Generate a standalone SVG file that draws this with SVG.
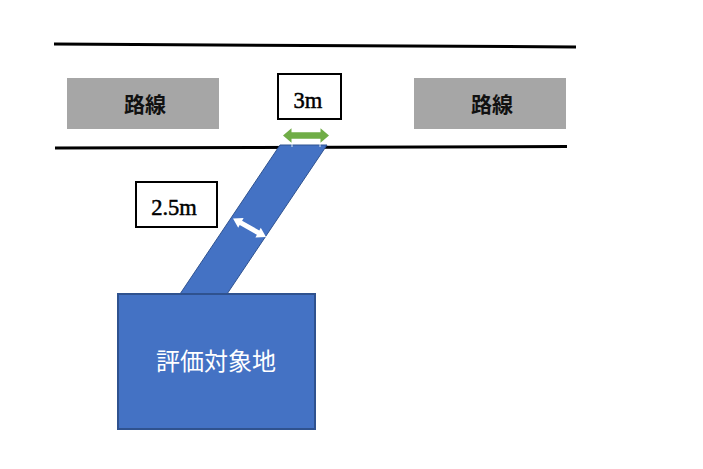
<svg xmlns="http://www.w3.org/2000/svg" width="703" height="469" viewBox="0 0 703 469">
<style>
.road{stroke:#000;stroke-width:3;fill:none}
.gray{fill:#a6a6a6}
.box{fill:#fff;stroke:#000;stroke-width:2}
.j{font-family:"Noto Sans CJK JP",sans-serif;font-size:21px;font-weight:bold;fill:#111;text-anchor:middle}
.e{font-family:"Liberation Serif",serif;font-size:22.500px;fill:#000;stroke:#000;stroke-width:.5;text-anchor:middle}
</style>
<rect width="703" height="469" fill="#fff"/>
<g id="connectors">
<path class="road" d="M54 44L576 47"/>
<path class="road" d="M55 148L567 146.500"/>
</g>
<g id="road-left"><rect class="gray" x="67" y="78" width="152" height="51"/><text class="j" x="145" y="112">路線</text></g>
<g id="road-right"><rect class="gray" x="414" y="78" width="152" height="51"/><text class="j" x="492" y="112">路線</text></g>
<g id="access"><path d="M280 145H327L227 294H180Z" fill="#4472c4" stroke="#2f528f" stroke-width="1"/></g>
<g id="site"><rect x="118" y="294" width="197" height="135" fill="#4472c4" stroke="#2f528f" stroke-width="2"/>
<text x="216" y="370" font-family="'Noto Sans CJK JP',sans-serif" font-size="24" fill="#fff" text-anchor="middle">評価対象地</text></g>
<g id="label-3m"><rect class="box" x="278" y="74" width="63" height="45"/><text class="e" x="308" y="108">3m</text></g>
<g id="label-25m"><rect class="box" x="136" y="182" width="81" height="45"/><text class="e" x="174" y="215">2.5m</text></g>
<g id="arrow-green"><path d="M283 135.500L291.500 128.300V132.300H320.500V128.300L329 135.500L320.500 142.700V138.700H291.500V142.700Z" fill="#70ad47"/></g>
<g id="arrow-white"><path d="M233 218.500L243.600 218.100L242.100 220.700L259.300 230.400L260.800 227.800L266 237L255.400 237.400L256.900 234.800L239.700 225.100L238.200 227.700Z" fill="#fff"/></g>
<path d="M292 144V147M320 144V147" stroke="#dfe8f5" stroke-width="1"/>
</svg>
